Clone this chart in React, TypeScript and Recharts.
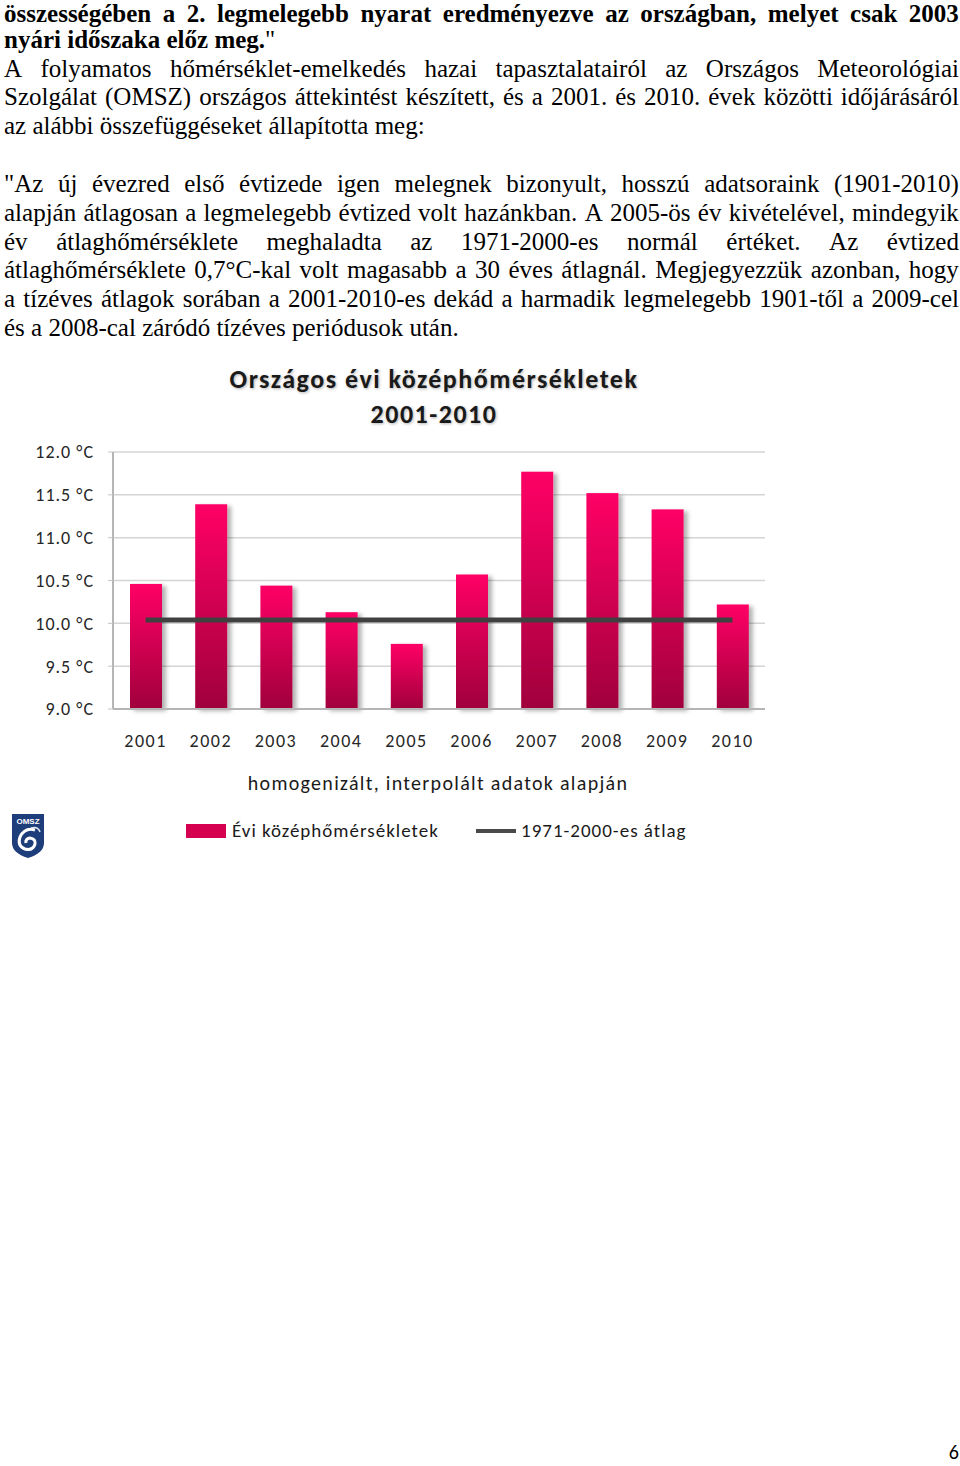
import { ComposedChart, Bar, Line, XAxis, YAxis, CartesianGrid } from 'recharts'

const YEARS = ['2001', '2002', '2003', '2004', '2005', '2006', '2007', '2008', '2009', '2010']
const ANNUAL_MEAN = [10.46, 11.39, 10.44, 10.13, 9.76, 10.57, 11.77, 11.52, 11.33, 10.22]
const NORMAL_1971_2000 = [10.04, 10.04, 10.04, 10.04, 10.04, 10.04, 10.04, 10.04, 10.04, 10.04]
const Y_TICKS = [9, 9.5, 10, 10.5, 11, 11.5, 12]

const TITLE = ['Országos évi középhőmérsékletek', '2001-2010']
const SUBTITLE = 'homogenizált, interpolált adatok alapján'
const LEGEND_BAR = 'Évi középhőmérsékletek'
const LEGEND_LINE = '1971-2000-es átlag'

const P1_FIRST = 'összességében a 2. legmelegebb nyarat eredményezve az országban, melyet csak 2003'
const P2_JUSTIFIED = [
  'A folyamatos hőmérséklet-emelkedés hazai tapasztalatairól az Országos Meteorológiai',
  'Szolgálat (OMSZ) országos áttekintést készített, és a 2001. és 2010. évek közötti időjárásáról',
]
const P2_LAST = 'az alábbi összefüggéseket állapította meg:'
const P3_JUSTIFIED = [
  '"Az új évezred első évtizede igen melegnek bizonyult, hosszú adatsoraink (1901-2010)',
  'alapján átlagosan a legmelegebb évtized volt hazánkban. A 2005-ös év kivételével, mindegyik',
  'év átlaghőmérséklete meghaladta az 1971-2000-es normál értéket. Az évtized',
  'átlaghőmérséklete 0,7°C-kal volt magasabb a 30 éves átlagnál. Megjegyezzük azonban, hogy',
  'a tízéves átlagok sorában a 2001-2010-es dekád a harmadik legmelegebb 1901-től a 2009-cel',
]
const P3_LAST = 'és a 2008-cal záródó tízéves periódusok után.'

const data = YEARS.map((year, i) => ({ year, mean: ANNUAL_MEAN[i], normal: NORMAL_1971_2000[i] }))

const SERIF = "'Times New Roman', 'Liberation Serif', serif"
const SANS = "Carlito, Calibri, Lato, sans-serif"
const LINE_H = 28.8
const TEXT_COLOR = '#1a1a1a'

function JustifiedLine({ text, bold }: { text: string; bold?: boolean }) {
  return (
    <div style={{ display: 'flex', justifyContent: 'space-between', height: LINE_H, fontWeight: bold ? 700 : 400 }}>
      {text.split(' ').map((w, i) => <span key={i}>{w}</span>)}
    </div>
  )
}

function BarShape(props: any) {
  const { x, y, width, height } = props
  if (!height || height <= 0) return null
  return <rect x={x} y={y} width={width} height={height} fill="url(#barGrad)" filter="url(#barShadow)" />
}

function Logo() {
  return (
    <svg width={34} height={46} style={{ position: 'absolute', left: 11, top: 813 }}>
      <path d="M1 1 H33 V30 Q33 40 17 45 Q1 40 1 30 Z" fill="#1e3d7b" />
      <text x={17} y={11} textAnchor="middle" fontSize={8} fontWeight={700} fill="#fff" fontFamily="Arial, sans-serif">OMSZ</text>
      <path d="M24 17 Q14 14 9 24 Q6 33 14 36 Q22 38 24 31 Q25 26 19 25 Q14 26 15 30" stroke="#fff" strokeWidth={3} fill="none" />
      <path d="M20 15 Q27 13 29 19" stroke="#dfe6f2" strokeWidth={1.5} fill="none" />
    </svg>
  )
}

export default function App() {
  const xTick = { fontSize: 18, fill: '#262626', fontFamily: SANS, letterSpacing: 1.5 }
  const yTick = { fontSize: 18, fill: '#262626', fontFamily: SANS, letterSpacing: 1 }
  const legendText = { position: 'absolute' as const, top: 819, fontFamily: SANS, fontSize: 19, letterSpacing: 1, color: TEXT_COLOR, lineHeight: '24px' }
  const bodyText = { position: 'absolute' as const, left: 4, width: 955, fontFamily: SERIF, fontSize: 25, lineHeight: `${LINE_H}px` }
  return (
    <div style={{ position: 'absolute', left: 0, top: 0, width: 960, height: 1466, background: '#fff', overflow: 'hidden', color: '#000' }}>
      <style>{'body{margin:0}'}</style>

      <div style={{ ...bodyText, top: -0.5 }}>
        <JustifiedLine text={P1_FIRST} bold />
      </div>

      <div style={{ ...bodyText, top: 25.8 }}>
        <div style={{ height: LINE_H }}><b>nyári időszaka előz meg.</b>"</div>
        {P2_JUSTIFIED.map((t, i) => <JustifiedLine key={i} text={t} />)}
        <div style={{ height: LINE_H }}>{P2_LAST}</div>
      </div>

      <div style={{ ...bodyText, top: 170 }}>
        {P3_JUSTIFIED.map((t, i) => <JustifiedLine key={i} text={t} />)}
        <div style={{ height: LINE_H }}>{P3_LAST}</div>
      </div>

      <div style={{ position: 'absolute', left: 0, width: 868, top: 362, textAlign: 'center', fontFamily: SANS, fontWeight: 700, fontSize: 26, letterSpacing: 1.5, lineHeight: '35px', color: TEXT_COLOR, textShadow: '1px 1px 3px rgba(0,0,0,0.3)' }}>
        {TITLE.map((t, i) => <div key={i}>{t}</div>)}
      </div>

      <div style={{ position: 'absolute', left: 0, top: 440 }}>
        <ComposedChart width={800} height={320} data={data} margin={{ top: 12, right: 35, left: 13, bottom: 0 }}>
          <defs>
            <linearGradient id="barGrad" x1="0" y1="0" x2="0" y2="1">
              <stop offset="0%" stopColor="#ff0066" />
              <stop offset="100%" stopColor="#a0003c" />
            </linearGradient>
            <filter id="barShadow" x="-20%" y="-10%" width="160%" height="130%">
              <feDropShadow dx={4} dy={2} stdDeviation={2} floodColor="#000" floodOpacity={0.3} />
            </filter>
          </defs>
          <CartesianGrid vertical={false} stroke="#d4d4d4" strokeWidth={1.5} />
          <XAxis
            dataKey="year"
            height={51}
            tickLine={false}
            tickSize={0}
            tickMargin={25}
            axisLine={{ stroke: '#b5b5b5', strokeWidth: 2 }}
            tick={xTick}
            interval={0}
          />
          <YAxis
            width={100}
            domain={[9, 12]}
            ticks={Y_TICKS}
            tickFormatter={(v: number) => `${v.toFixed(1)} °C`}
            tickSize={5}
            tickMargin={14}
            tickLine={{ stroke: '#c4c4c4' }}
            axisLine={{ stroke: '#b5b5b5', strokeWidth: 2 }}
            tick={yTick}
          />
          <YAxis
            yAxisId="frame"
            orientation="right"
            width={0}
            domain={[9, 12]}
            tick={false}
            tickLine={false}
            axisLine={{ stroke: '#b0b0b0', strokeDasharray: '1 2' }}
          />
          <Bar dataKey="mean" barSize={32} shape={BarShape} isAnimationActive={false} />
          <Line dataKey="normal" type="linear" stroke="#404040" strokeWidth={5} dot={false} activeDot={false} isAnimationActive={false} />
        </ComposedChart>
      </div>

      <div style={{ position: 'absolute', left: 0, width: 876, top: 771, textAlign: 'center', fontFamily: SANS, fontSize: 20, letterSpacing: 1.3, color: TEXT_COLOR }}>
        {SUBTITLE}
      </div>

      <Logo />

      <div style={{ position: 'absolute', left: 186, top: 824, width: 40, height: 14, background: '#d5004f' }} />
      <div style={{ ...legendText, left: 232 }}>{LEGEND_BAR}</div>
      <div style={{ position: 'absolute', left: 476, top: 829, width: 40, height: 4, background: '#4a4a4a' }} />
      <div style={{ ...legendText, left: 521 }}>{LEGEND_LINE}</div>

      <div style={{ position: 'absolute', right: 1, top: 1440, fontFamily: SANS, fontSize: 20, color: '#000' }}>6</div>
    </div>
  )
}
